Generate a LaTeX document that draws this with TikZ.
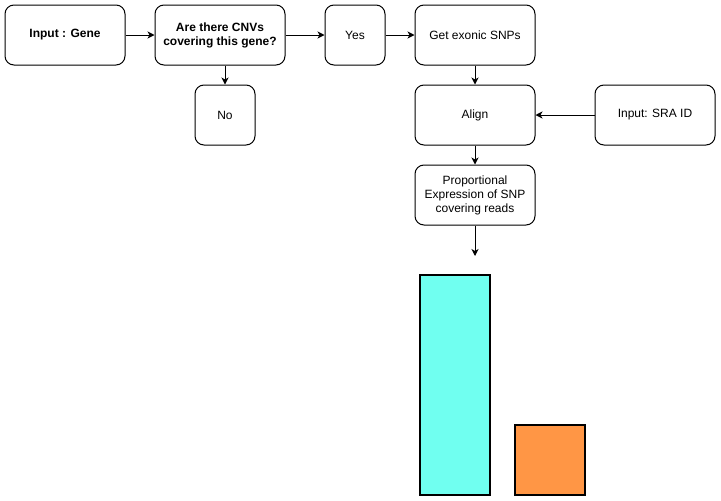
\documentclass[tikz,border=0pt]{standalone}
\usepackage{fontspec}
\setmainfont{Liberation Sans}
\usetikzlibrary{arrows.meta}
\begin{document}
\begin{tikzpicture}[x=1pt,y=-1pt,
  box/.style={draw=black,line width=1pt,rounded corners=9pt,fill=white,align=center,font=\fontsize{12}{14}\selectfont},
  arr/.style={draw=black,line width=1pt,-{Stealth[length=7pt,width=7pt,inset=2pt]}},
  bar/.style={draw=black,line width=1.2pt}]
\useasboundingbox (0,0) rectangle (721,501);
\node[box,minimum width=120pt,minimum height=60pt,font=\bfseries\fontsize{12}{14}\selectfont] (gene) at (65,35) {Input : Gene};
\node[box,minimum width=130pt,minimum height=60pt,font=\bfseries\fontsize{12}{14}\selectfont] (cnv) at (220,35) {Are there CNVs\\covering this gene?};
\node[box,minimum width=60pt,minimum height=60pt] (no) at (225,115) {No};
\node[box,minimum width=60pt,minimum height=60pt] (yes) at (355,35) {Yes};
\node[box,minimum width=120pt,minimum height=60pt] (snp) at (475,35) {Get exonic SNPs};
\node[box,minimum width=120pt,minimum height=60pt] (align) at (475,115) {Align};
\node[box,minimum width=120pt,minimum height=60pt] (sra) at (655,115) {Input: SRA ID};
\node[box,minimum width=120pt,minimum height=60pt] (prop) at (475,195) {Proportional\\Expression of SNP\\covering reads};
\coordinate (end) at (475,256);
\draw[arr] (gene) -- (cnv);
\draw[arr] (cnv) -- (yes);
\draw[arr] (yes) -- (snp);
\draw[arr] (cnv.south -| no.north) -- (no);
\draw[arr] (snp) -- (align);
\draw[arr] (sra) -- (align);
\draw[arr] (align) -- (prop);
\draw[arr] (prop) -- (end);
\definecolor{cyanbar}{HTML}{70FFF0}
\definecolor{orangebar}{HTML}{FF9645}
\draw[bar,fill=cyanbar] (420,275) rectangle (490,495);
\draw[bar,fill=orangebar] (515,425) rectangle (585,495);
\end{tikzpicture}
\end{document}
